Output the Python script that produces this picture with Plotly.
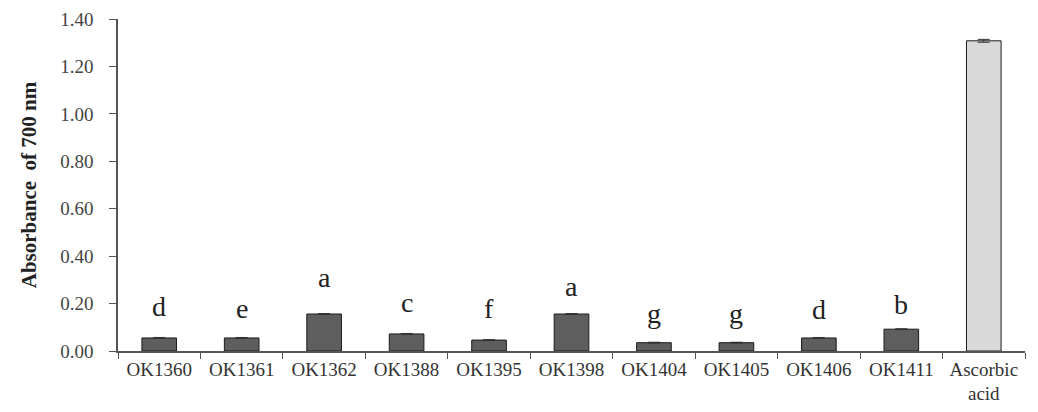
import plotly.graph_objects as go

categories = ["OK1360", "OK1361", "OK1362", "OK1388", "OK1395", "OK1398",
              "OK1404", "OK1405", "OK1406", "OK1411", "Ascorbic<br>acid"]
values = [0.055, 0.055, 0.156, 0.072, 0.046, 0.156, 0.035, 0.035, 0.055, 0.092, 1.308]
errors = [0.002, 0.002, 0.002, 0.002, 0.002, 0.002, 0.002, 0.002, 0.002, 0.002, 0.006]
letters = ["d", "e", "a", "c", "f", "a", "g", "g", "d", "b", ""]
letter_y = [0.186, 0.181, 0.308, 0.203, 0.181, 0.272, 0.160, 0.160, 0.173, 0.194, None]
colors = ["#5e5e5e"] * 10 + ["#d9d9d9"]

SERIF = "Liberation Serif, Times New Roman, serif"

fig = go.Figure()
fig.add_trace(go.Bar(
    x=categories, y=values,
    marker=dict(color=colors, line=dict(color="#1a1a1a", width=1)),
    width=0.42,
    error_y=dict(type="data", array=errors, visible=True, color="#333333",
                 thickness=1, width=6),
    showlegend=False,
))

for c, l, ly in zip(categories, letters, letter_y):
    if l:
        fig.add_annotation(x=c, y=ly, text=l, showarrow=False,
                           font=dict(family=SERIF, size=28, color="#222222"),
                           yanchor="middle")

fig.update_layout(
    width=1038, height=412,
    margin=dict(l=118, r=13, t=19, b=61),
    plot_bgcolor="white", paper_bgcolor="white",
    font=dict(family=SERIF, size=19, color="#333333"),
)
fig.update_xaxes(
    range=[-0.5, 10.5], showline=True, linecolor="#555555", linewidth=1.5,
    ticks="outside", tickson="boundaries", ticklen=6, tickcolor="#555555",
    showgrid=False, automargin=False,
    tickfont=dict(family=SERIF, size=19, color="#333333"),
)
fig.update_yaxes(
    range=[0, 1.4], dtick=0.2, tickformat=".2f", showline=True,
    linecolor="#555555", linewidth=1.5, ticks="outside", ticklen=7,
    tickcolor="#555555", showgrid=False, zeroline=False, automargin=False,
    ticklabelstandoff=12,
    tickfont=dict(family=SERIF, size=19, color="#444444"),
    title=dict(text="<b>Absorbance  of 700 nm</b>",
               font=dict(family=SERIF, size=21, color="#222222"),
               standoff=18),
)

fig.write_html("out.html")
